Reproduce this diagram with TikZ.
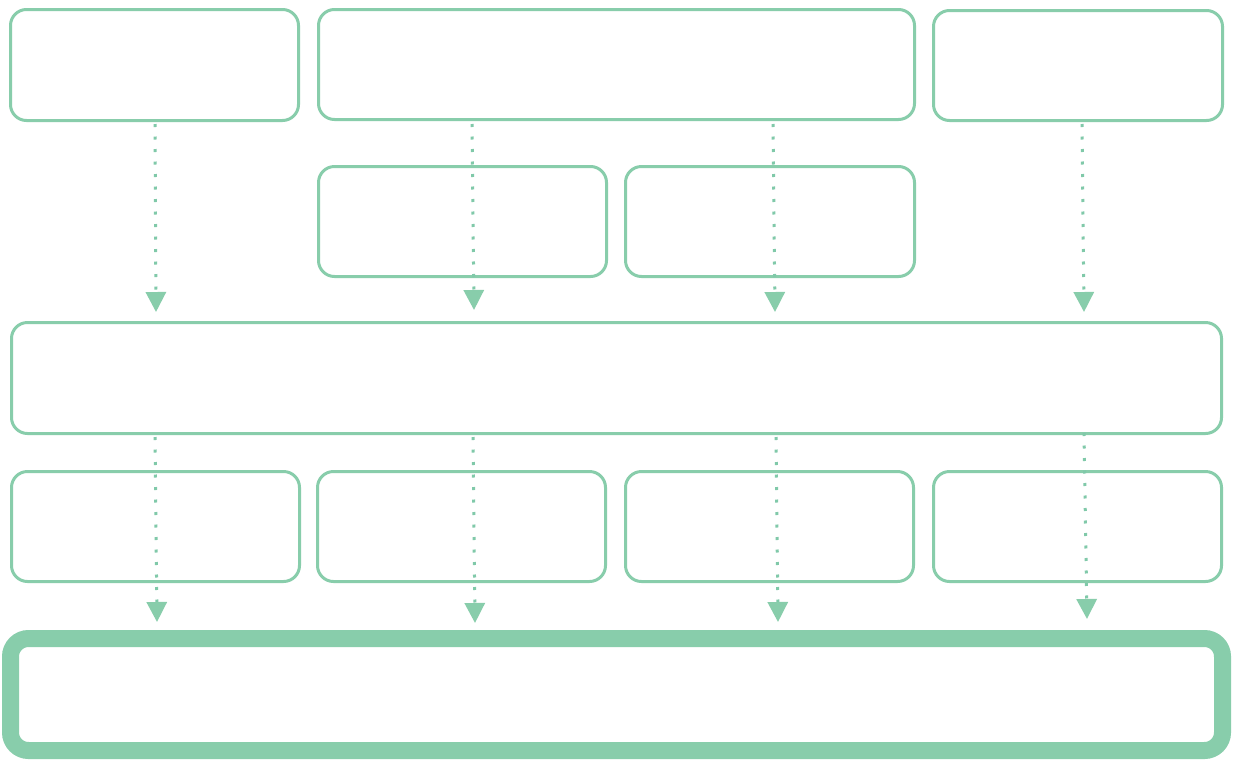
\documentclass[tikz,border=0pt]{standalone}
\usetikzlibrary{arrows.meta}
\definecolor{mint}{HTML}{88CDAB}
\definecolor{mintdot}{HTML}{80C9A9}
\begin{document}
\begin{tikzpicture}[x=1pt,y=-1pt,
  box/.style={draw=mint,line width=3pt,rounded corners=16pt,inner sep=0pt,minimum width=288pt,minimum height=110pt},
  bigbox/.style={draw=mint,line width=17pt,rounded corners=18pt,inner sep=0pt},
  flow/.style={draw=mintdot,line width=3pt,dash pattern=on 3pt off 9.5pt,
    -{Triangle[width=20pt,length=20pt,fill=mint,color=mint]}}]
\useasboundingbox (0,0) rectangle (1233,761);
\fill[white] (0,0) rectangle (1233,761);
% top row
\node[box,minimum height=111pt] (A) at (154.5,65) {};
\node[box,minimum width=596pt] (B) at (616.5,64.5) {};
\node[box,minimum width=289pt] (C) at (1078,65.5) {};
% second row
\node[box] (D) at (462.5,221.5) {};
\node[box,minimum width=289pt] (E) at (770,221.5) {};
% wide middle
\node[box,minimum width=1210pt,minimum height=111pt] (F) at (616.5,378) {};
% fourth row
\node[box] (G) at (155.5,526.5) {};
\node[box] (H) at (461.5,526.5) {};
\node[box] (I) at (769.5,526.5) {};
\node[box] (J) at (1077.5,526.5) {};
% bottom
\node[bigbox,minimum width=1212pt,minimum height=112pt] (K) at (616.5,694.5) {};
% arrow end points
\coordinate (a1s) at (155,124);
\coordinate (a1e) at (156,312);
\coordinate (a2s) at (472,124);
\coordinate (a2e) at (474,310);
\coordinate (a3s) at (773,124);
\coordinate (a3e) at (775,312);
\coordinate (a4s) at (1082,124);
\coordinate (a4e) at (1084,312);
\coordinate (b1s) at (155,437);
\coordinate (b1e) at (157,622);
\coordinate (b2s) at (473,437);
\coordinate (b2e) at (475,623);
\coordinate (b3s) at (776,437);
\coordinate (b3e) at (778,622);
\coordinate (b4s) at (1084,433);
\coordinate (b4e) at (1087,619);
\draw[flow] (a1s) -- (a1e);
\draw[flow] (a2s) -- (a2e);
\draw[flow] (a3s) -- (a3e);
\draw[flow] (a4s) -- (a4e);
\draw[flow] (b1s) -- (b1e);
\draw[flow] (b2s) -- (b2e);
\draw[flow] (b3s) -- (b3e);
\draw[flow] (b4s) -- (b4e);
\end{tikzpicture}
\end{document}
